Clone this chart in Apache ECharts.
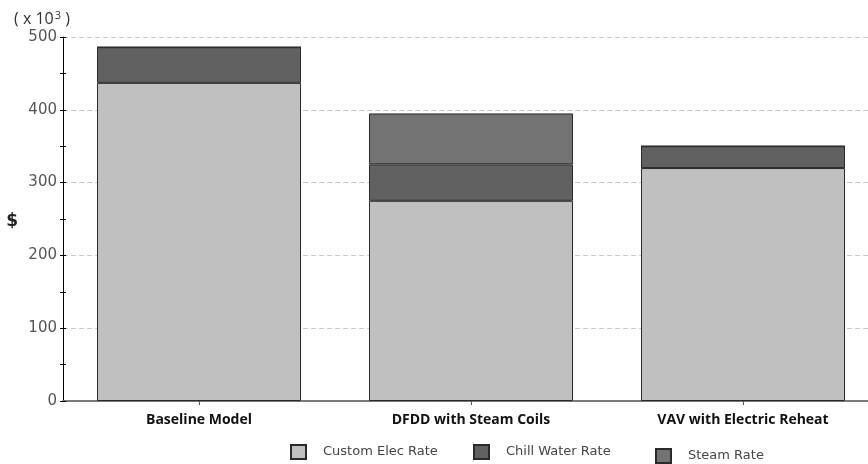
<!DOCTYPE html>
<html>
<head>
<meta charset="utf-8">
<script src="https://cdn.jsdelivr.net/npm/echarts@6/dist/echarts.min.js"></script>
<style>
  html, body { margin: 0; padding: 0; background: #fff; }
  #chart { width: 868px; height: 464px; }
</style>
</head>
<body>
<div id="chart"></div>
<script>
// Annual utility cost per design option, in thousands of dollars
const categories = ['Baseline Model', 'DFDD with Steam Coils', 'VAV with Electric Reheat'];
const customElecRate = [437, 275, 320];
const chillWaterRate = [49, 50, 30];
const steamRate = [0, 70, 0];
const yTicks = [0, 100, 200, 300, 400, 500];

const seriesNames = ['Custom Elec Rate', 'Chill Water Rate', 'Steam Rate'];
const seriesColors = ['#c0c0c0', '#616161', '#737373'];
const seriesData = [customElecRate, chillWaterRate, steamRate];

const chart = echarts.init(document.getElementById('chart'), null, { renderer: 'canvas' });

const legendText = {
  fontFamily: 'DejaVu Sans',
  fontSize: 13,
  color: '#444',
  padding: [0, 0, 0, 12]
};
function legendAt(name, left, top) {
  return {
    data: [name],
    left: left,
    top: top,
    padding: 0,
    orient: 'horizontal',
    icon: 'rect',
    itemWidth: 15,
    itemHeight: 14,
    textStyle: legendText,
    selectedMode: false
  };
}

chart.setOption({
  animation: false,
  backgroundColor: '#ffffff',
  title: {
    text: '( x 10{sup|3} )',
    left: 14,
    top: 10,
    padding: 0,
    textStyle: {
      fontFamily: 'Open Sans', fontSize: 16, fontWeight: 'normal', color: '#333',
      rich: {
        sup: { fontFamily: 'Open Sans', fontSize: 11, color: '#333', verticalAlign: 'top', padding: [0, 0, 8, 1] }
      }
    }
  },
  legend: [
    legendAt(seriesNames[0], 290, 444),
    legendAt(seriesNames[1], 473, 444),
    legendAt(seriesNames[2], 655, 448)
  ],
  grid: { left: 63, top: 37, width: 816, height: 364, containLabel: false, outerBoundsMode: 'none' },
  xAxis: {
    type: 'category',
    data: categories,
    axisLine: { lineStyle: { color: '#7a7a7a', width: 2 } },
    axisTick: { show: true, alignWithLabel: true, length: 4, lineStyle: { color: '#555' } },
    axisLabel: {
      margin: 12,
      fontFamily: 'Open Sans',
      fontWeight: 'bold',
      fontSize: 14,
      color: '#111'
    }
  },
  yAxis: [
    {
      type: 'value',
      min: yTicks[0],
      max: yTicks[yTicks.length - 1],
      interval: 100,
      name: '\n$',
      nameLocation: 'middle',
      nameRotate: 0,
      nameGap: 45,
      nameTextStyle: { fontFamily: 'DejaVu Sans', fontWeight: 'bold', fontSize: 17, lineHeight: 6, color: '#222' },
      axisLine: { show: true, lineStyle: { color: '#000', width: 1 } },
      axisTick: { show: true, inside: false, length: 3, lineStyle: { color: '#000' } },
      minorTick: { show: true, splitNumber: 2, length: 3, lineStyle: { color: '#000' } },
      axisLabel: {
        margin: 6,
        fontFamily: 'DejaVu Sans',
        fontSize: 15,
        color: '#555'
      },
      splitLine: { show: true, lineStyle: { color: '#c8c8c8', type: [5, 3], width: 1 } }
    },
    {
      // mirror axis so the ticks cross the axis line
      type: 'value',
      position: 'left',
      min: yTicks[0],
      max: yTicks[yTicks.length - 1],
      interval: 100,
      axisLine: { show: false },
      axisTick: { show: true, inside: true, length: 3, lineStyle: { color: '#000' } },
      minorTick: { show: true, splitNumber: 2, length: 3, lineStyle: { color: '#000' } },
      axisLabel: { show: false },
      splitLine: { show: false }
    }
  ],
  series: seriesNames.map((name, i) => ({
    name: name,
    type: 'bar',
    stack: 'total',
    barWidth: 204,
    data: seriesData[i],
    itemStyle: { color: seriesColors[i], borderColor: '#2a2a2a', borderWidth: 1 },
    emphasis: { disabled: true }
  }))
});
</script>
</body>
</html>
